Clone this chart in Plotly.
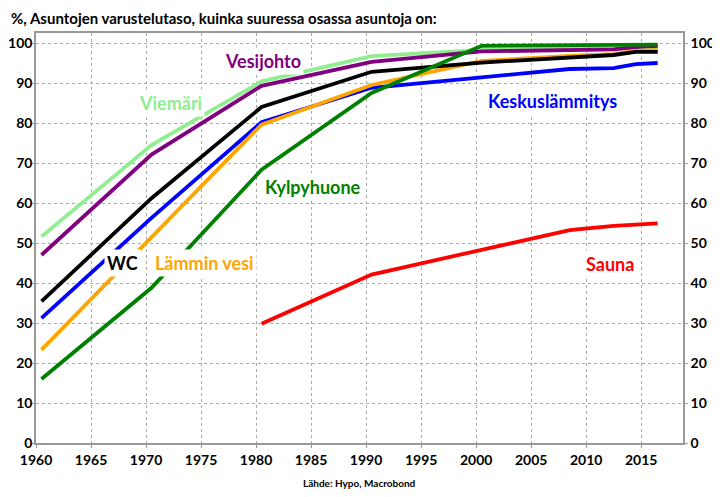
import plotly.graph_objects as go

# mid-year observation points
years = [1960.5, 1970.5, 1980.5, 1990.5, 2000.5, 2008.5, 2012.5, 2014.5, 2016.5]

viemari = [51.6, 74.5, 90.4, 96.7, 98.3, 98.5, 98.6, 98.7, 98.8]
vesijohto = [47.0, 72.1, 89.3, 95.3, 97.9, 98.2, 98.4, 99.0, 99.3]
keskuslammitys = [31.2, 56.3, 80.2, 88.8, 91.4, 93.5, 93.7, 94.7, 95.0]
lammin_vesi = [23.3, 51.5, 79.6, 89.5, 95.5, 96.8, 97.2, 98.0, 98.2]
wc = [35.4, 61.2, 84.0, 92.8, 95.1, 96.5, 97.0, 97.8, 97.8]
kylpyhuone = [16.0, 38.8, 68.3, 87.5, 99.3, 99.4, 99.4, 99.5, 99.6]
sauna = [None, None, 29.8, 42.1, 48.3, 53.2, 54.3, 54.5, 54.9]

x_ticks = list(range(1960, 2020, 5))
y_ticks = list(range(0, 101, 10))

series = [
    ("Viemäri", viemari, "#90EE90"),
    ("Vesijohto", vesijohto, "#800080"),
    ("Keskuslämmitys", keskuslammitys, "#0000FF"),
    ("Lämmin vesi", lammin_vesi, "#FFA500"),
    ("WC", wc, "#000000"),
    ("Kylpyhuone", kylpyhuone, "#008000"),
    ("Sauna", sauna, "#FF0000"),
]

FONT = "Lato"

fig = go.Figure()
for name, vals, col in series:
    fig.add_trace(go.Scatter(x=years, y=vals, mode="lines", name=name,
                             line=dict(color=col, width=3.8)))

# invisible copy so the right-hand axis gets drawn
fig.add_trace(go.Scatter(x=years, y=sauna, yaxis="y2", mode="lines",
                         line=dict(width=0), hoverinfo="skip", showlegend=False))

# series labels placed on the chart: (text, x, y, colour)
labels = [
    ("Vesijohto", 1980.6, 95.6, "#800080"),
    ("Viemäri", 1972.2, 85.1, "#90EE90"),
    ("Keskuslämmitys", 2006.9, 85.6, "#0000FF"),
    ("Kylpyhuone", 1985.2, 64.1, "#008000"),
    ("WC", 1967.9, 45.1, "#000000"),
    ("Lämmin vesi", 1975.3, 45.1, "#FFA500"),
    ("Sauna", 2012.2, 44.8, "#FF0000"),
]
for txt, lx, ly, col in labels:
    fig.add_annotation(x=lx, y=ly, text=txt, showarrow=False, bgcolor="white",
                       borderpad=2,
                       font=dict(family=FONT, size=18, color=col, weight="bold"))

fig.add_annotation(xref="paper", yref="paper", x=-0.041, y=1.036,
                   xanchor="left", yanchor="middle",
                   text="%, Asuntojen varustelutaso, kuinka suuressa osassa asuntoja on:",
                   showarrow=False, font=dict(family=FONT, size=15, color="black", weight="bold"))
fig.add_annotation(xref="paper", yref="paper", x=0.5, y=-0.097,
                   xanchor="center", yanchor="middle",
                   text="Lähde: Hypo, Macrobond", showarrow=False,
                   font=dict(family=FONT, size=10, color="black", weight="bold"))

axis_common = dict(showline=True, linecolor="#999999", linewidth=1.5,
                   ticks="outside", ticklen=3, tickcolor="#999999",
                   gridcolor="#aaaaaa", griddash="dot", gridwidth=1,
                   tickfont=dict(family=FONT, size=14, color="black", weight="bold"),
                   zeroline=False, automargin=False)

# page body adds an 8px margin, so the figure is 8px smaller than the window
fig.update_layout(
    width=712, height=489,
    margin=dict(l=28, r=37, t=25, b=54),
    paper_bgcolor="white", plot_bgcolor="white",
    showlegend=False,
    xaxis=dict(range=[1960, 2018.8], tickvals=x_ticks, mirror=True, showgrid=True,
               **axis_common),
    yaxis=dict(range=[0, 102.5], tickvals=y_ticks, showgrid=True,
               ticklabelstandoff=-4, **axis_common),
    yaxis2=dict(range=[0, 102.5], tickvals=y_ticks, overlaying="y", side="right",
                showgrid=False, **axis_common),
)

fig.write_html("out.html")
